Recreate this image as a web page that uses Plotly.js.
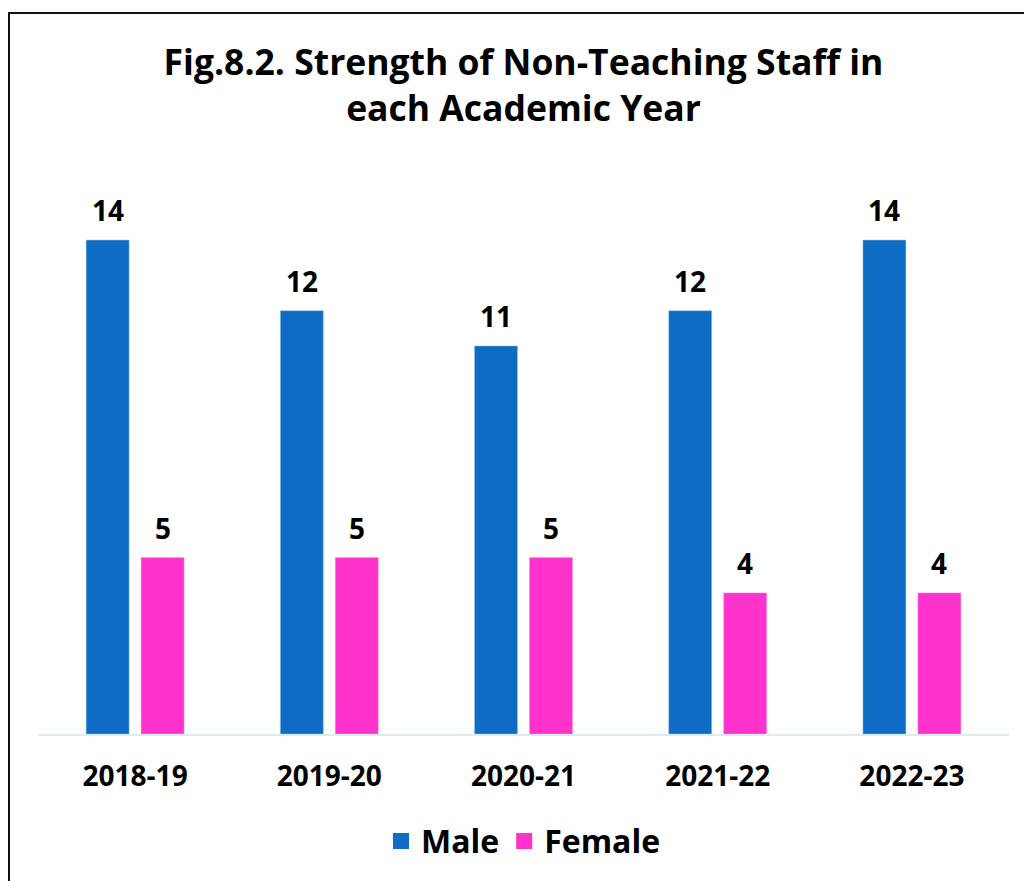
<!DOCTYPE html>
<html>
<head>
<meta charset="utf-8">
<script src="https://cdn.plot.ly/plotly-3.0.1.min.js"></script>
<style>
html,body{margin:0;padding:0;background:#fff;}
#chart{width:1024px;height:881px;}
#frame{position:absolute;left:8px;top:12px;width:1100px;height:1000px;border:2px solid #111;pointer-events:none;}
</style>
</head>
<body>
<div id="chart"></div>
<div id="frame"></div>
<script>
const years = ["2018-19", "2019-20", "2020-21", "2021-22", "2022-23"];
const male = [14, 12, 11, 12, 14];
const female = [5, 5, 5, 4, 4];
const seriesNames = ["Male", "Female"];
const colors = ["#0F6CC4", "#FF33CC"];

const FONT = "'Open Sans', sans-serif";

const traces = [
  {type: "bar", name: seriesNames[0], x: years, y: male, marker: {color: colors[0], line: {color: "#9DC3E6", width: 0.5}}, showlegend: false, hoverinfo: "x+y"},
  {type: "bar", name: seriesNames[1], x: years, y: female, marker: {color: colors[1], line: {color: "#FF8FE0", width: 0.5}}, showlegend: false, hoverinfo: "x+y"},
  {type: "scatter", mode: "markers", name: seriesNames[0], x: [years[0]], y: [-100], marker: {symbol: "square", size: 21, color: colors[0]}, hoverinfo: "skip", cliponaxis: true},
  {type: "scatter", mode: "markers", name: seriesNames[1], x: [years[0]], y: [-100], marker: {symbol: "square", size: 21, color: colors[1]}, hoverinfo: "skip", cliponaxis: true}
];

const annotations = [];
years.forEach((yr, i) => {
  annotations.push({x: yr, y: male[i], text: String(male[i]), showarrow: false, xanchor: "center", yanchor: "bottom", xshift: -27.5, yshift: 9, font: {family: FONT, size: 28, color: "#000", weight: "bold"}});
  annotations.push({x: yr, y: female[i], text: String(female[i]), showarrow: false, xanchor: "center", yanchor: "bottom", xshift: 27.5, yshift: 9, font: {family: FONT, size: 28, color: "#000", weight: "bold"}});
});

const layout = {
  width: 1024, height: 881,
  paper_bgcolor: "#fff", plot_bgcolor: "#fff",
  margin: {l: 38, r: 15, t: 190, b: 147, pad: 0},
  barmode: "group",
  bargap: 0.434,
  bargroupgap: 0.218,
  title: {
    text: "Fig.8.2. Strength of Non-Teaching Staff in<br>each Academic Year",
    x: 0.5, xref: "paper", xanchor: "center",
    y: 1 - 75/881, yref: "container", yanchor: "middle",
    font: {family: FONT, size: 35.5, color: "#000", weight: "bold"}
  },
  xaxis: {
    type: "category",
    showline: true, linecolor: "#DDEBF7", linewidth: 2,
    showgrid: false, zeroline: false,
    ticks: "outside", ticklen: 16, tickcolor: "rgba(0,0,0,0)",
    tickfont: {family: FONT, size: 28, color: "#000", weight: "bold"}
  },
  yaxis: {
    range: [0, 15.42], visible: false, showgrid: false, zeroline: false
  },
  showlegend: true,
  legend: {
    orientation: "h", x: 0.5, xanchor: "center", y: -0.197, yanchor: "middle",
    font: {family: FONT, size: 32, color: "#000", weight: "bold"},
    itemsizing: "trace"
  },
  annotations: annotations
};

Plotly.newPlot("chart", traces, layout, {displayModeBar: false, staticPlot: true});
</script>
</body>
</html>
